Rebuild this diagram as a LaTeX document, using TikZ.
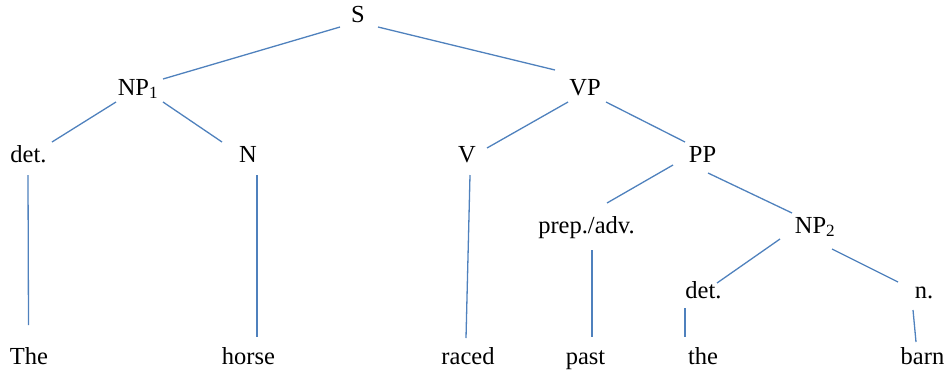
\documentclass[tikz,border=0pt]{standalone}
\usepackage{fontspec}
\setmainfont{Liberation Serif}
\definecolor{linec}{RGB}{79,129,189}
\begin{document}
\begin{tikzpicture}[x=1pt,y=-1pt,
  lbl/.style={anchor=base,inner sep=0pt,font=\fontsize{24.5}{28}\selectfont},
  edge/.style={draw=linec,line width=1.3pt}]
\useasboundingbox (0,0) rectangle (949,376);
% labels
\node[lbl] (S)    at (358,22)    {S};
\node[lbl] (NP1)  at (138,95)    {NP\textsubscript{1}};
\node[lbl] (VP)   at (585,95)    {VP};
\node[lbl] (det1) at (28.5,162)  {det.};
\node[lbl] (N)    at (248,162)   {N};
\node[lbl] (V)    at (467,162)   {V};
\node[lbl] (PP)   at (702.5,162) {PP};
\node[lbl] (prep) at (586.5,233) {prep./adv.};
\node[lbl] (NP2)  at (815,233)   {NP\textsubscript{2}};
\node[lbl] (det2) at (703.5,298) {det.};
\node[lbl] (n)    at (924,298)   {n.};
\node[lbl] (w1) at (29,364)    {The};
\node[lbl] (w2) at (248.5,364) {horse};
\node[lbl] (w3) at (468,364)   {raced};
\node[lbl] (w4) at (585.5,364) {past};
\node[lbl] (w5) at (703,364)   {the};
\node[lbl] (w6) at (922.5,364) {barn};
% connector end points
\coordinate (sA) at (340,27);   \coordinate (np1A) at (163,79);
\coordinate (sB) at (378,27);   \coordinate (vpA) at (555,70);
\coordinate (np1B) at (116,102);\coordinate (det1A) at (52,142);
\coordinate (np1C) at (163,102);\coordinate (nA) at (222,142);
\coordinate (det1B) at (28,175);\coordinate (w1A) at (28.5,325);
\coordinate (nB) at (257,175);  \coordinate (w2A) at (257,337);
\coordinate (vpB) at (568,102); \coordinate (vA) at (487,148);
\coordinate (vB) at (470,175);  \coordinate (w3A) at (466,338);
\coordinate (vpC) at (606,102); \coordinate (ppA) at (685,142);
\coordinate (ppB) at (673,165); \coordinate (prepA) at (607,203);
\coordinate (ppC) at (708,173); \coordinate (np2A) at (792,213);
\coordinate (prepB) at (592,250);\coordinate (w4A) at (592,337);
\coordinate (np2B) at (780,239);\coordinate (det2A) at (717,283);
\coordinate (np2C) at (832,249);\coordinate (nnA) at (898,282);
\coordinate (det2B) at (685,308);\coordinate (w5A) at (685,337);
\coordinate (nnB) at (913,310); \coordinate (w6A) at (916,342);
% connectors
\draw[edge] (sA) -- (np1A);
\draw[edge] (sB) -- (vpA);
\draw[edge] (np1B) -- (det1A);
\draw[edge] (np1C) -- (nA);
\draw[edge] (det1B) -- (w1A);
\draw[edge] (nB) -- (w2A);
\draw[edge] (vpB) -- (vA);
\draw[edge] (vB) -- (w3A);
\draw[edge] (vpC) -- (ppA);
\draw[edge] (ppB) -- (prepA);
\draw[edge] (ppC) -- (np2A);
\draw[edge] (prepB) -- (w4A);
\draw[edge] (np2B) -- (det2A);
\draw[edge] (np2C) -- (nnA);
\draw[edge] (det2B) -- (w5A);
\draw[edge] (nnB) -- (w6A);
\end{tikzpicture}
\end{document}
